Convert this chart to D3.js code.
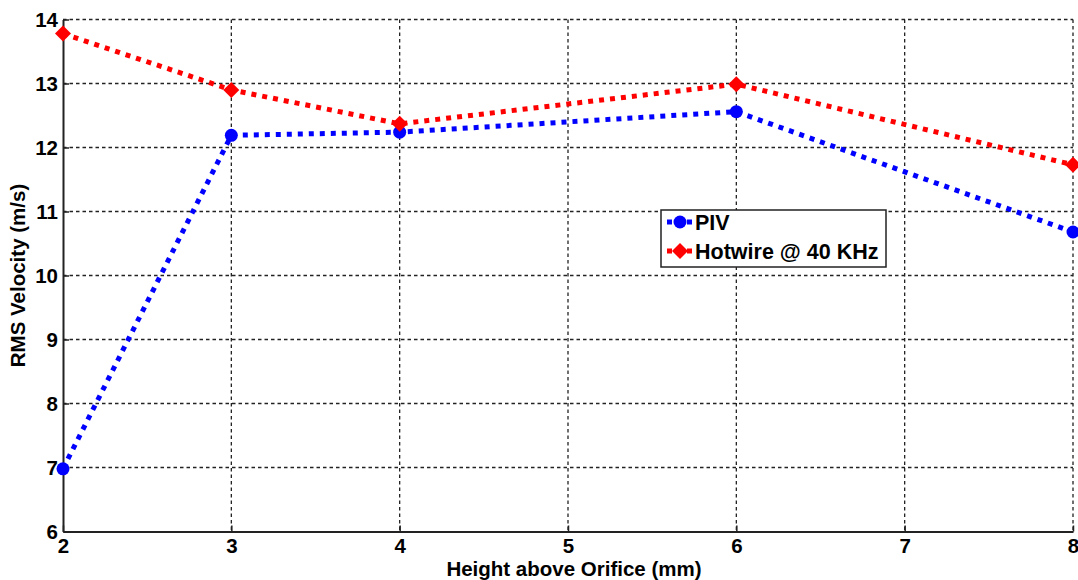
<!DOCTYPE html>
<html>
<head>
<meta charset="utf-8">
<script src="https://cdn.jsdelivr.net/npm/d3@7"></script>
<style>
  body { margin: 0; background: #fff; }
  text { font-family: "Liberation Sans", Arial, sans-serif; font-weight: bold; fill: #000; }
</style>
</head>
<body>
<div id="chart"></div>
<script>
// data
var heights = [2, 3, 4, 6, 8];
var piv = [6.98, 12.19, 12.24, 12.56, 10.68];
var hotwire = [13.78, 12.9, 12.37, 12.99, 11.73];
var xTicks = [2, 3, 4, 5, 6, 7, 8];
var yTicks = [6, 7, 8, 9, 10, 11, 12, 13, 14];

var width = 1078, height = 580;
var plotLeft = 63, plotRight = 1073, plotTop = 19.5, plotBottom = 531.5;

var svg = d3.select("#chart")
    .append("svg")
    .attr("width", width)
    .attr("height", height);

var x = d3.scaleLinear().domain([2, 8]).range([plotLeft, plotRight]);
var y = d3.scaleLinear().domain([6, 14]).range([plotBottom, plotTop]);

// grid
svg.selectAll(".vgrid")
    .data(xTicks.slice(1))
    .enter()
    .append("line")
    .attr("x1", d => x(d)).attr("x2", d => x(d))
    .attr("y1", plotTop).attr("y2", plotBottom)
    .attr("stroke", "#222").attr("stroke-width", 1.3)
    .attr("stroke-dasharray", "3.5,3");

svg.selectAll(".hgrid")
    .data(yTicks.slice(1))
    .enter()
    .append("line")
    .attr("x1", plotLeft).attr("x2", plotRight)
    .attr("y1", d => y(d)).attr("y2", d => y(d))
    .attr("stroke", "#222").attr("stroke-width", 1.3)
    .attr("stroke-dasharray", "3.5,3");

// axes
var xAxis = svg.append("g")
    .attr("transform", "translate(0," + plotBottom + ")")
    .call(d3.axisBottom(x).tickValues(xTicks).tickFormat(d3.format("d"))
        .tickSizeInner(-6).tickSizeOuter(0).tickPadding(7));
var yAxis = svg.append("g")
    .attr("transform", "translate(" + plotLeft + ",0)")
    .call(d3.axisLeft(y).tickValues(yTicks).tickFormat(d3.format("d"))
        .tickSizeInner(-6).tickSizeOuter(0).tickPadding(5));

[xAxis, yAxis].forEach(function (g) {
    g.select(".domain").attr("stroke", "#222").attr("stroke-width", 2);
    g.selectAll(".tick line").attr("stroke", "#222").attr("stroke-width", 1.5);
    g.selectAll(".tick text").style("font-size", "20.5px").attr("fill", "#000");
});

// series
var line = d3.line()
    .x(d => x(d[0]))
    .y(d => y(d[1]));

var series = [
    { name: "PIV", values: piv, color: "#0000ff", marker: "circle" },
    { name: "Hotwire @ 40 KHz", values: hotwire, color: "#ff0000", marker: "diamond" }
];

function drawMarker(g, type, color, cx, cy) {
    if (type === "circle") {
        g.append("circle").attr("cx", cx).attr("cy", cy).attr("r", 6.5).attr("fill", color);
    } else {
        var s = 8;
        g.append("path")
            .attr("d", "M" + cx + "," + (cy - s) + "L" + (cx + s) + "," + cy + "L" + cx + "," + (cy + s) + "L" + (cx - s) + "," + cy + "Z")
            .attr("fill", color);
    }
}

series.forEach(function (s) {
    var pts = heights.map((h, i) => [h, s.values[i]]);
    svg.append("path")
        .datum(pts)
        .attr("d", line)
        .attr("fill", "none")
        .attr("stroke", s.color)
        .attr("stroke-width", 5)
        .attr("stroke-dasharray", "5,6");
    var g = svg.append("g");
    pts.forEach(function (p) {
        drawMarker(g, s.marker, s.color, x(p[0]), y(p[1]));
    });
});

// legend
var lg = svg.append("g");
lg.append("rect")
    .attr("x", 661).attr("y", 210)
    .attr("width", 225).attr("height", 57)
    .attr("fill", "#fff").attr("stroke", "#222").attr("stroke-width", 1.5);

series.forEach(function (s, i) {
    var ly = 222 + i * 29;
    lg.append("line")
        .attr("x1", 667).attr("x2", 693)
        .attr("y1", ly).attr("y2", ly)
        .attr("stroke", s.color).attr("stroke-width", 5)
        .attr("stroke-dasharray", "5,5");
    drawMarker(lg, s.marker, s.color, 680, ly);
    lg.append("text")
        .attr("x", 695).attr("y", ly + 8)
        .style("font-size", "21.5px")
        .text(s.name);
});

// axis labels
svg.append("text")
    .attr("x", (plotLeft + plotRight) / 2 + 6)
    .attr("y", 576)
    .attr("text-anchor", "middle")
    .style("font-size", "20.5px")
    .text("Height above Orifice (mm)");

svg.append("text")
    .attr("transform", "translate(25," + ((plotTop + plotBottom) / 2) + ") rotate(-90)")
    .attr("text-anchor", "middle")
    .style("font-size", "20.5px")
    .text("RMS Velocity (m/s)");
</script>
</body>
</html>
